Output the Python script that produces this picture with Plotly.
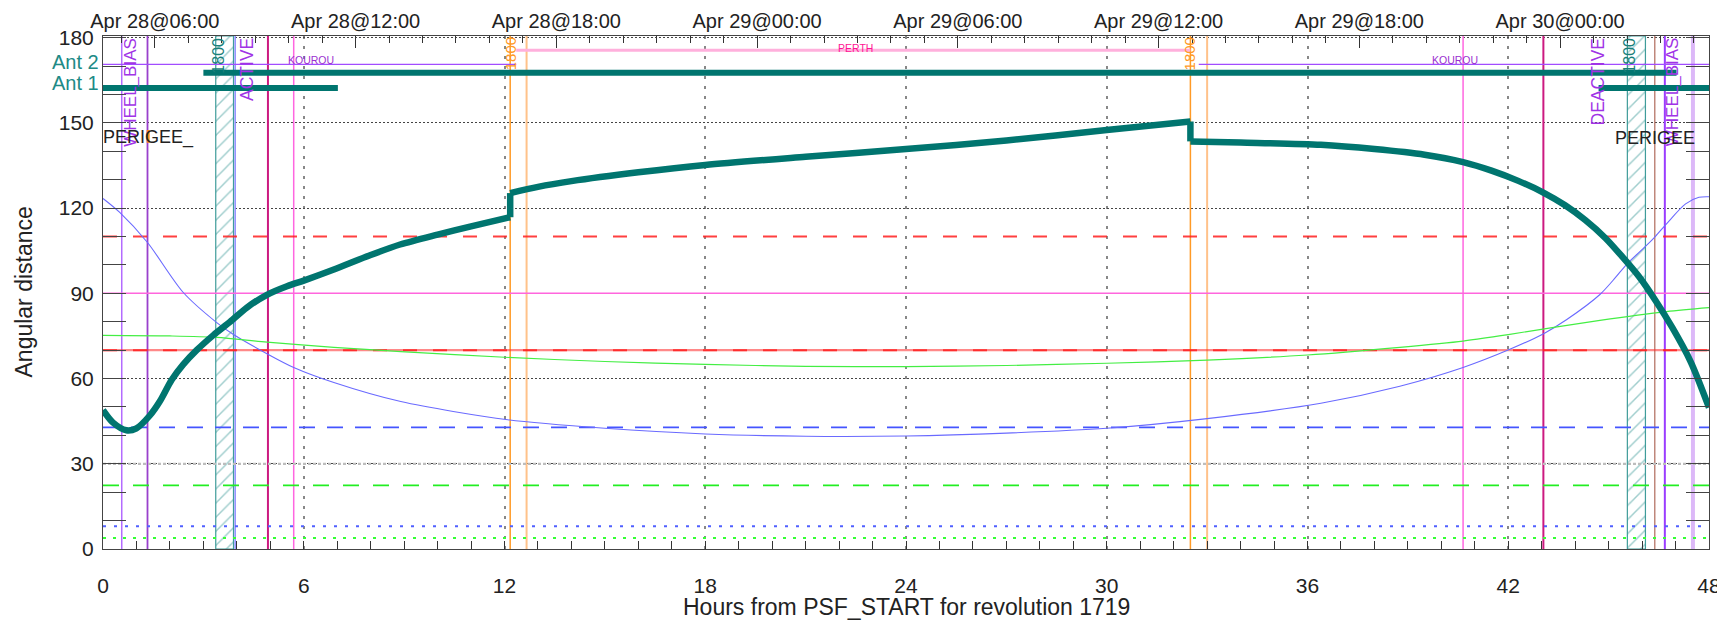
import plotly.graph_objects as go

# ---------------- data ----------------
# main teal curve in three pieces (jumps between pieces)
teal_a_hours = [0, 0.3, 0.7, 1.0, 1.4, 1.7, 2.05, 2.4, 2.8, 3.3, 3.8, 4.3, 4.9, 5.5, 6.0, 6.9, 8.0, 8.88, 10.0, 11.0, 12.17]
teal_a_deg = [48.9, 44.5, 41.8, 42.5, 47.0, 52.0, 59.5, 65.0, 70.0, 75.3, 80.0, 85.0, 89.5, 92.5, 94.5, 98.4, 103.5, 107.2, 110.7, 113.6, 116.8]
teal_b_hours = [12.17, 13, 14, 16, 18, 21, 24, 27, 30, 32.5]
teal_b_deg = [125.3, 127.5, 129.5, 132.6, 135.2, 138.1, 140.8, 143.8, 147.5, 150.5]
teal_c_hours = [32.5, 34, 36.4, 38, 39.5, 40.65, 41.5, 42.3, 43.05, 43.7, 44.3, 44.9, 45.4, 45.9, 46.4, 46.9, 47.45, 48]
teal_c_deg = [143.5, 143.1, 142.3, 140.8, 138.8, 136.2, 133.2, 129.6, 125.5, 121.0, 115.8, 109.5, 103.0, 96.0, 87.5, 78.0, 66.0, 49.8]

blue_hours = [0, 0.5, 1.33, 2.4, 3.4, 3.9, 4.94, 5.7, 6.9, 8.9, 12.1, 15, 18, 21, 24, 27, 30, 33,
              36.4, 38.76, 40.65, 42.03, 43.07, 43.75, 44.74, 45.2, 45.56, 46.1, 46.4, 46.73, 47.3, 47.7, 48]
blue_deg = [123.4, 118.5, 107.9, 90.3, 79.7, 75.5, 68.5, 63.9, 58.6, 51.9, 45.5, 42.5, 40.5, 39.7, 39.8,
            40.8, 42.5, 45.9, 51.3, 57.3, 63.9, 70.2, 75.9, 80.8, 89.6, 95.5, 100.5, 106.5, 110.1, 114.5,
            121.5, 123.8, 124.0]

green_hours = [0, 2, 3.4, 4.9, 6.9, 8.9, 12, 15, 18, 21, 24, 27, 30, 33, 36, 38.76, 40.65, 42, 44.74, 46.73, 48]
green_deg = [75.2, 75.0, 74.5, 72.8, 71.0, 69.5, 67.5, 66.0, 65.0, 64.3, 64.2, 64.6, 65.4, 66.5, 68.3,
             71.0, 73.2, 75.5, 80.5, 83.6, 85.0]

hline_levels = [110, 70, 70, 90, 42.8, 30, 22.4, 8.0, 3.9]
hline_kinds = ["red_dash", "red_soft", "red_dash", "pink", "blue_dash", "gray_dot", "green_dash",
               "blue_dot", "green_dot"]

vline_hours = [0.56, 1.33, 3.95, 4.93, 5.70, 12.17, 12.66, 32.50, 33.00, 40.65, 43.05, 46.38, 46.68, 47.52]
vline_kinds = ["wb_a", "wb_b", "active", "crimson", "kourou", "orange", "orange_lt", "orange", "orange_lt",
               "kourou", "crimson", "perigee", "wb_c", "wb_d"]

hatch_start = [3.37, 45.56]
hatch_end = [3.90, 46.10]

kourou_start = [0.0, 32.75]
kourou_end = [12.35, 48.0]
kourou_level = 170.6
perth_start = [12.35]
perth_end = [32.5]
perth_level = 175.6
ant2_start = [3.0]
ant2_end = [47.03]
ant2_level = 167.7
ant1_start = [0.0, 44.7]
ant1_end = [7.02, 48.0]
ant1_level = 162.3

perigee_mark_hour = 1.35
perigee_mark_deg = [143.0, 147.5]

x_ticks = [0, 6, 12, 18, 24, 30, 36, 42, 48]
y_ticks = [0, 30, 60, 90, 120, 150, 180]
top_tick_hours = [1.55, 7.55, 13.55, 19.55, 25.55, 31.55, 37.55, 43.55]
top_tick_text = ["Apr 28@06:00", "Apr 28@12:00", "Apr 28@18:00", "Apr 29@00:00",
                 "Apr 29@06:00", "Apr 29@12:00", "Apr 29@18:00", "Apr 30@00:00"]

Y_TOP = 180.6
X_MAX = 48

# ---------------- styles ----------------
TEAL = "#00756f"
HATCH = "#3f9c9a"
FONT = "Liberation Sans, Arial, Helvetica, sans-serif"

hstyle = {
    "red_dash": dict(color="rgba(255,30,30,0.85)", width=2, dash="14px,16px"),
    "red_soft": dict(color="rgba(255,40,40,0.55)", width=2.2, dash="solid"),
    "pink": dict(color="#ff66dd", width=1.5, dash="solid"),
    "blue_dash": dict(color="#4455ff", width=1.8, dash="16px,12px"),
    "gray_dot": dict(color="#bdbdbd", width=2.2, dash="3px,2px"),
    "green_dash": dict(color="#22ee22", width=1.6, dash="16px,14px"),
    "blue_dot": dict(color="#5060ff", width=2, dash="3px,8px"),
    "green_dot": dict(color="#33ff33", width=2, dash="3px,7px"),
}
vstyle = {
    "wb_a": dict(color="#b36bff", width=1.5),
    "wb_b": dict(color="#9940cc", width=1.8),
    "active": dict(color="#8c8cff", width=1.5),
    "crimson": dict(color="#cc1a80", width=2),
    "kourou": dict(color="#ff66e0", width=1.5),
    "orange": dict(color="#ff9a26", width=1.5),
    "orange_lt": dict(color="#ffc28a", width=2),
    "perigee": dict(color="#b06a5a", width=1.2),
    "wb_c": dict(color="#9a3cff", width=2),
    "wb_d": dict(color="#dcb8f8", width=4),
}

fig = go.Figure()

# hatched boxes
for s, e in zip(hatch_start, hatch_end):
    fig.add_trace(go.Bar(
        x=[(s + e) / 2], y=[Y_TOP], base=0, width=[e - s],
        marker=dict(color="white", line=dict(color=HATCH, width=1.2),
                    pattern=dict(shape="/", fgcolor=HATCH, bgcolor="white", size=10, solidity=0.15)),
        hoverinfo="skip", showlegend=False))

# vertical event lines
for h, k in zip(vline_hours, vline_kinds):
    fig.add_trace(go.Scatter(x=[h, h], y=[0, Y_TOP], mode="lines", line=vstyle[k],
                             hoverinfo="skip", showlegend=False))

# horizontal threshold lines
for lv, k in zip(hline_levels, hline_kinds):
    fig.add_trace(go.Scatter(x=[0, X_MAX], y=[lv, lv], mode="lines", line=hstyle[k],
                             hoverinfo="skip", showlegend=False))

# station / antenna spans
def spans(starts, ends, level, color, width):
    for s, e in zip(starts, ends):
        fig.add_trace(go.Scatter(x=[s, e], y=[level, level], mode="lines",
                                 line=dict(color=color, width=width),
                                 hoverinfo="skip", showlegend=False))

spans(kourou_start, kourou_end, kourou_level, "#a24dff", 1.2)
spans(perth_start, perth_end, perth_level, "#ffb0dc", 3)
spans(ant2_start, ant2_end, ant2_level, TEAL, 6)
spans(ant1_start, ant1_end, ant1_level, TEAL, 6)

# thin curves
fig.add_trace(go.Scatter(x=blue_hours, y=blue_deg, mode="lines",
                         line=dict(color="#6a6aff", width=1.1, shape="spline", smoothing=0.8),
                         hoverinfo="skip", showlegend=False))
fig.add_trace(go.Scatter(x=green_hours, y=green_deg, mode="lines",
                         line=dict(color="#44ee44", width=1.2, shape="spline", smoothing=0.8),
                         hoverinfo="skip", showlegend=False))

# main teal curve: smooth pieces plus vertical jumps
for hx, dy in [(teal_a_hours, teal_a_deg), (teal_b_hours, teal_b_deg), (teal_c_hours, teal_c_deg)]:
    fig.add_trace(go.Scatter(x=hx, y=dy, mode="lines",
                             line=dict(color=TEAL, width=6.5, shape="spline", smoothing=0.8),
                             hoverinfo="skip", showlegend=False))
for (h1, d1), (h2, d2) in [((teal_a_hours, teal_a_deg), (teal_b_hours, teal_b_deg)),
                           ((teal_b_hours, teal_b_deg), (teal_c_hours, teal_c_deg))]:
    fig.add_trace(go.Scatter(x=[h1[-1], h2[0]], y=[d1[-1], d2[0]], mode="lines",
                             line=dict(color=TEAL, width=6.5), hoverinfo="skip", showlegend=False))

# perigee orange mark
fig.add_trace(go.Scatter(x=[perigee_mark_hour, perigee_mark_hour], y=perigee_mark_deg, mode="lines",
                         line=dict(color="#ff8c1a", width=3), hoverinfo="skip", showlegend=False))

# invisible trace for top axis
fig.add_trace(go.Scatter(x=[0, X_MAX], y=[0, 0], xaxis="x2", mode="lines",
                         line=dict(width=0), hoverinfo="skip", showlegend=False))

# ---------------- annotations ----------------
ann = []

def rot_label(text, x, color, size):
    ann.append(dict(x=x, y=180.4, xref="x", yref="y", text=text, textangle=-90,
                    xanchor="center", yanchor="top", showarrow=False,
                    font=dict(family=FONT, size=size, color=color), borderpad=0))

rot_label("WHEEL_BIAS", 0.80, "#a033e6", 17)
rot_label("1800", 3.44, "#1a7f7a", 16)
rot_label("ACTIVE", 4.30, "#a033e6", 17.5)
rot_label("1800", 12.17, "#ff9a26", 15)
rot_label("1800", 32.47, "#ff9a26", 15)
rot_label("DEACTIVE", 44.68, "#a033e6", 17.5)
rot_label("1800", 45.64, "#1a7f7a", 16)
rot_label("WHEEL_BIAS", 46.90, "#a033e6", 17)

def flat_label(text, x, y, color, size):
    ann.append(dict(x=x, y=y, xref="x", yref="y", text=text, xanchor="center", yanchor="middle",
                    showarrow=False, font=dict(family=FONT, size=size, color=color)))

flat_label("KOUROU", 6.22, 172.2, "#9a30d0", 10.5)
flat_label("KOUROU", 40.40, 172.2, "#9a30d0", 10.5)
flat_label("PERTH", 22.5, 176.3, "#ff1493", 10.5)
flat_label("PERIGEE_", 1.35, 144.8, "#222222", 18)
flat_label("PERIGEE", 46.38, 144.8, "#222222", 18)

for txt, yv in [("Ant 2", 171.6), ("Ant 1", 164.0)]:
    ann.append(dict(x=0, y=yv, xref="paper", yref="y", text=txt, xanchor="right", yanchor="middle",
                    xshift=-2, showarrow=False, font=dict(family=FONT, size=20, color="#208a86")))

ann.append(dict(x=0.5, y=0, xref="paper", yref="paper", text="Hours from PSF_START for revolution 1719",
                xanchor="center", yanchor="middle", yshift=-58, showarrow=False,
                font=dict(family=FONT, size=23, color="#222222")))
ann.append(dict(x=0, y=0.5, xref="paper", yref="paper", text="Angular distance", textangle=-90,
                xanchor="center", yanchor="middle", xshift=-80, showarrow=False,
                font=dict(family=FONT, size=23, color="#222222")))

# ---------------- layout ----------------
# the page body keeps an 8px margin, so the figure is sized/margined to land the plot
# area at the same window pixels as the reference
fig.update_layout(
    width=1717, height=620,
    margin=dict(l=95, r=16, t=28, b=78.5, pad=0),
    paper_bgcolor="white", plot_bgcolor="white",
    showlegend=False, barmode="overlay",
    font=dict(family=FONT, color="#222222"),
    annotations=ann,
    xaxis=dict(range=[0, X_MAX], tickmode="array", tickvals=x_ticks, automargin=False,
               ticks="inside", ticklen=8, tickcolor="#333", tickwidth=1,
               minor=dict(tickmode="linear", dtick=1, tick0=0, ticks="inside", ticklen=8,
                          tickcolor="#333", showgrid=False),
               showgrid=True, gridcolor="#888888", gridwidth=1.5, griddash="3px,7px",
               showline=True, linecolor="#444", linewidth=1, zeroline=False,
               ticklabeloverflow="allow",
               tickfont=dict(family=FONT, size=21, color="#222"), ticklabelstandoff=18),
    xaxis2=dict(range=[0, X_MAX], overlaying="x", side="top", tickmode="array", automargin=False,
                tickvals=top_tick_hours, ticktext=top_tick_text,
                ticks="inside", ticklen=12, tickcolor="#333",
                minor=dict(tickmode="linear", tick0=0.55, dtick=1, ticks="inside", ticklen=7,
                           tickcolor="#333", showgrid=False),
                showgrid=False, showline=True, linecolor="#444", linewidth=1, zeroline=False,
                ticklabeloverflow="allow",
                tickfont=dict(family=FONT, size=20, color="#222"), ticklabelstandoff=-1),
    yaxis=dict(range=[0, Y_TOP], tickmode="array", tickvals=y_ticks, automargin=False,
               ticks="inside", ticklen=23, tickcolor="#444",
               minor=dict(tickmode="linear", dtick=10, tick0=0, ticks="inside", ticklen=23,
                          tickcolor="#444", showgrid=False),
               showgrid=True, gridcolor="#444444", gridwidth=1, griddash="2px,2px",
               showline=True, mirror="ticks", linecolor="#444", linewidth=1, zeroline=False,
               ticklabeloverflow="allow",
               tickfont=dict(family=FONT, size=21, color="#222"), ticklabelstandoff=4),
)

fig.write_html("out.html")
